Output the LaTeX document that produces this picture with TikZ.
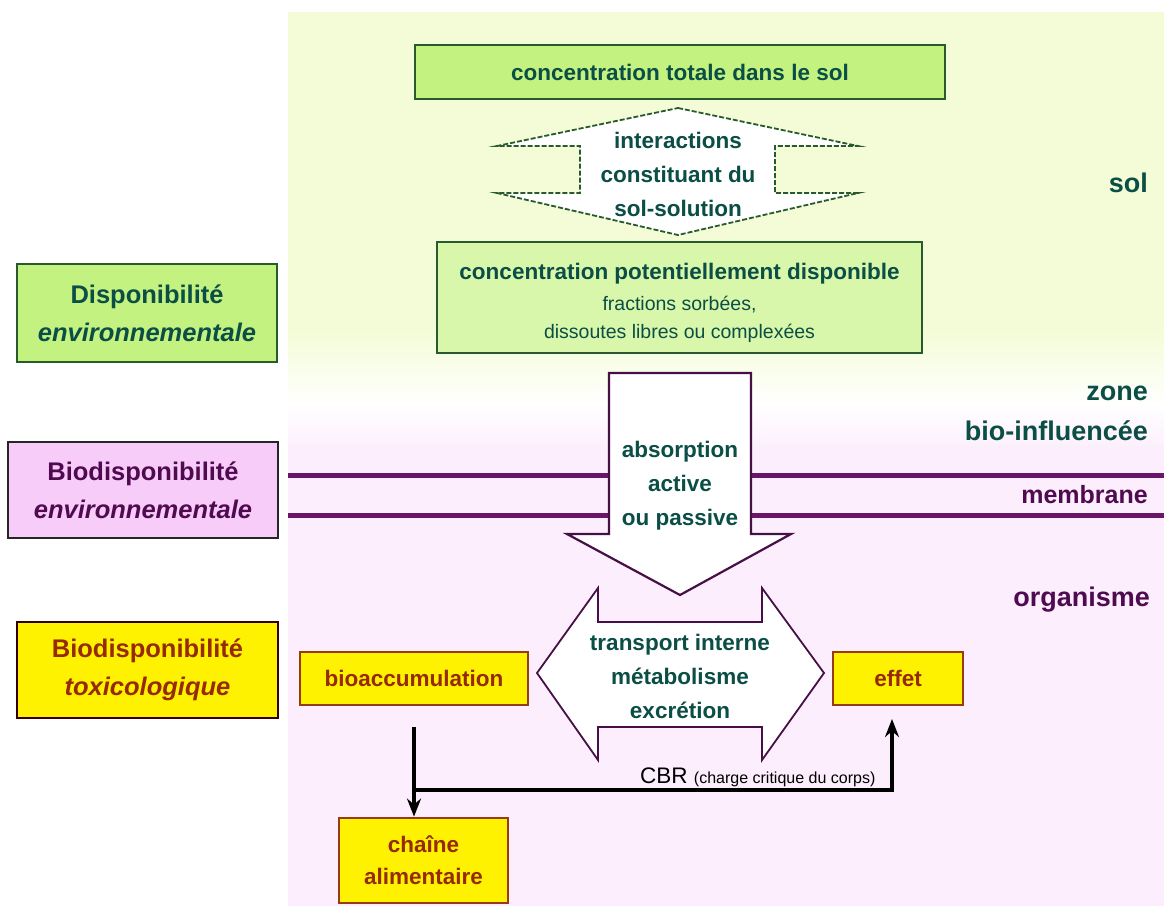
\documentclass[tikz,border=0pt]{standalone}
\usepackage{fontspec}
\setmainfont{Liberation Sans}
\usetikzlibrary{arrows.meta}
\definecolor{tealtxt}{RGB}{10,78,70}
\definecolor{purtxt}{RGB}{80,10,80}
\definecolor{redtxt}{RGB}{150,42,0}
\definecolor{bggreen}{RGB}{243,252,214}
\definecolor{bgpink}{RGB}{252,238,252}
\definecolor{boxgreen}{RGB}{196,242,128}
\definecolor{boxgreenlt}{RGB}{216,247,170}
\definecolor{bordgreen}{RGB}{40,90,45}
\definecolor{boxpink}{RGB}{248,204,248}
\definecolor{memcol}{RGB}{105,22,105}
\definecolor{arrpur}{RGB}{70,15,70}
\definecolor{bordbrown}{RGB}{150,60,20}
\tikzset{
  mainfont/.style={font=\fontsize{22.5}{34}\selectfont\bfseries},
  greenbox/.style={draw=bordgreen, line width=2.8, fill=boxgreen, inner sep=0pt, text=tealtxt, align=center},
  leftfont/.style={font=\fontsize{25.5}{38}\selectfont\bfseries},
  yellowbox/.style={draw=bordbrown, line width=2.8, fill=yellow, inner sep=0pt, text=redtxt, align=center, mainfont},
  arrowtext/.style={align=center, mainfont, inner sep=0pt},
  memline/.style={draw=memcol, line width=5},
  flowline/.style={draw=black, line width=3.2},
  flowtip/.style={-{Stealth[length=18,width=14]}},
  rightlab/.style={anchor=east, font=\fontsize{27}{40}\selectfont\bfseries, align=right, inner sep=0pt}
}
\begin{document}
\begin{tikzpicture}[x=1pt,y=-1pt]
\useasboundingbox (0,0) rectangle (1164,906);
\fill[white] (0,0) rectangle (1164,906);
% background panel
\fill[bggreen] (288,12) rectangle (1164,330);
\shade[top color=bggreen, bottom color=white] (288,329) rectangle (1164,405);
\shade[top color=white, bottom color=bgpink] (288,404) rectangle (1164,450);
\fill[bgpink] (288,449) rectangle (1164,906);

% membrane lines
\draw[memline] (288,475) -- (1164,475);
\draw[memline] (288,515) -- (1164,515);

% top box
\node[greenbox, mainfont, minimum width=530, minimum height=54] (tot) at (680,72) {concentration totale dans le sol};

% vertical double arrow
\draw[draw=bordgreen, line width=1.8, dash pattern=on 5pt off 2pt, fill=white]
  (678,108) -- (858,146) -- (775,146) -- (775,193) -- (858,193) -- (678,235)
  -- (497,193) -- (580,193) -- (580,146) -- (497,146) -- cycle;
\node[arrowtext, text=tealtxt] (inter) at (678,174) {interactions\\constituant du\\sol-solution};

% second box
\node[greenbox, fill=boxgreenlt, minimum width=485, minimum height=111] (pot) at (679.5,297.5) {};
\node[align=center, inner sep=0pt, text=tealtxt] (pottext) at (679.5,303)
  {{\fontsize{22.5}{30}\selectfont\bfseries concentration potentiellement disponible}\\[11pt]
   {\fontsize{19.5}{27}\selectfont fractions sorbées,}\\[10pt]
   {\fontsize{19.5}{27}\selectfont dissoutes libres ou complexées}};

% down arrow
\draw[draw=arrpur, line width=2.2, fill=white]
  (609,373) -- (751,373) -- (751,534) -- (791,534) -- (680,595) -- (567,534) -- (609,534) -- cycle;
\node[arrowtext, text=tealtxt] (abs) at (680,486) {absorption\\active\\ou passive};

% horizontal double arrow
\draw[draw=arrpur, line width=1.8, fill=white]
  (537,673) -- (598,588) -- (598,622) -- (762,622) -- (762,588) -- (824,673)
  -- (762,760) -- (762,727) -- (598,727) -- (598,760) -- cycle;
\node[arrowtext, text=tealtxt] (trans) at (680,676) {transport interne\\métabolisme\\excrétion};

% left boxes
\node[greenbox, leftfont, minimum width=260, minimum height=98] (dispo) at (147,313) {Disponibilité\\\textit{environnementale}};
\node[draw=black!85, line width=2.8, fill=boxpink, text=purtxt, align=center, leftfont, inner sep=0pt, minimum width=270, minimum height=96] (biodispo) at (143,490) {Biodisponibilité\\\textit{environnementale}};
\node[draw=black!80!red, line width=2.8, fill=yellow, text=redtxt, align=center, leftfont, inner sep=0pt, minimum width=261, minimum height=96] (biotox) at (147.5,670) {Biodisponibilité\\\textit{toxicologique}};

% yellow boxes
\node[yellowbox, minimum width=228, minimum height=53] (bioacc) at (414,678.5) {bioaccumulation};
\node[yellowbox, minimum width=130, minimum height=53] (effet) at (898,678.5) {effet};
\node[yellowbox, minimum width=169, minimum height=85, font=\fontsize{22.5}{32}\selectfont\bfseries] (chaine) at (423.5,860.5) {chaîne\\alimentaire};

% connectors
\coordinate (a1) at (414,727);
\coordinate (j1) at (414,790);
\coordinate (e1) at (892,719);
\draw[flowline, flowtip] (a1) -- (chaine.north -| a1);
\draw[flowline, flowtip] (j1) -| (e1);
\node[anchor=base west, inner sep=0pt, font=\fontsize{22.5}{26}\selectfont] (cbr) at (640,783)
  {CBR {\fontsize{16}{18}\selectfont(charge critique du corps)}};

% right labels
\node[rightlab, text=tealtxt] (sol) at (1148,183) {sol};
\node[rightlab, text=tealtxt] (zone) at (1148,413) {zone\\bio-influencée};
\node[rightlab, text=purtxt, font=\fontsize{25}{30}\selectfont\bfseries] (memb) at (1148,495) {membrane};
\node[rightlab, text=purtxt] (org) at (1150,600) {organisme};
\end{tikzpicture}
\end{document}
